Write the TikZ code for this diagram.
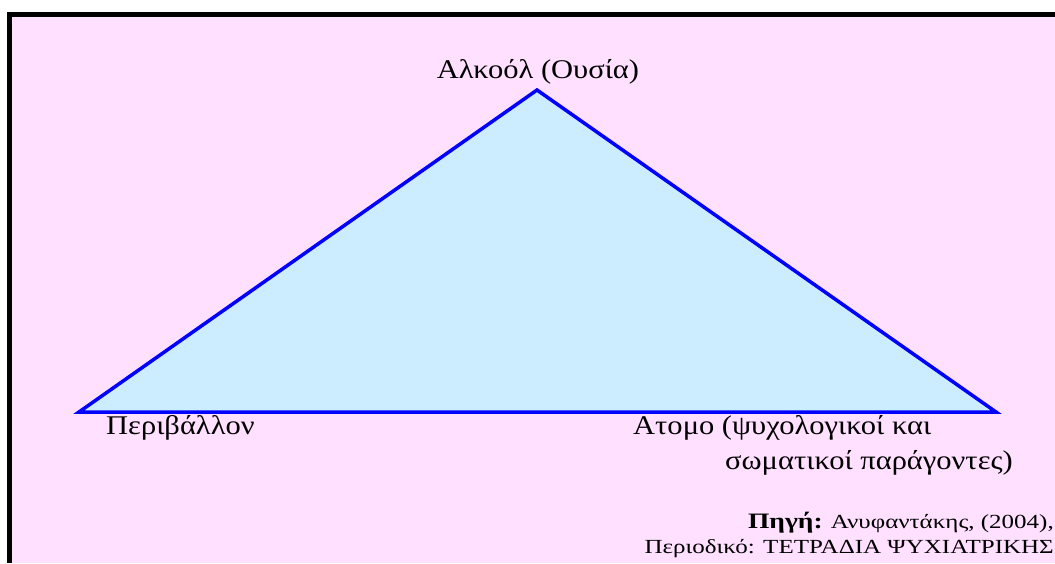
\documentclass[tikz,border=0pt]{standalone}
\usepackage{fontspec}
\setmainfont{Liberation Serif}
\newfontfamily\lblfont[FakeStretch=1.13]{Liberation Serif}
\newfontfamily\srcfont[FakeStretch=1.25]{Liberation Serif}
\definecolor{bgpink}{RGB}{255,224,255}
\definecolor{trifill}{RGB}{204,236,255}
\definecolor{triline}{RGB}{0,0,255}
\tikzset{
  lbl/.style={inner sep=0pt, font=\lblfont\fontsize{27}{32}\selectfont, text=black},
  src/.style={inner sep=0pt, font=\srcfont\fontsize{20}{24}\selectfont, text=black},
}
\begin{document}
\begin{tikzpicture}[x=1pt,y=-1pt]
\useasboundingbox (0,0) rectangle (1055,563);
\fill[white] (0,0) rectangle (1055,563);
\fill[black] (7,12) rectangle (1055,563);
\fill[bgpink] (12,17) rectangle (1055,563);
% labels
\node[lbl, anchor=base] (alc) at (538,78) {Αλκοόλ (Ουσία)};
\node[lbl, anchor=base west] (env) at (106,434) {Περιβάλλον};
\node[lbl, anchor=base west] (atom1) at (633,434) {Ατομο (ψυχολογικοί και};
\node[lbl, anchor=base east] (atom2) at (1013,469) {σωματικοί παράγοντες)};
\node[src, anchor=base east] (src1) at (1054,528) {\textbf{\fontsize{22}{24}\selectfont Πηγή:} Ανυφαντάκης, (2004),};
\node[src, anchor=base east] (src2) at (1054,553) {Περιοδικό: ΤΕΤΡΑΔΙΑ ΨΥΧΙΑΤΡΙΚΗΣ};
% triangle
\coordinate (apex) at (537,90);
\coordinate (lft) at (79,412);
\coordinate (rgt) at (996,412);
\draw[triline, line width=3.5pt, fill=trifill, line join=miter] (apex) -- (rgt) -- (lft) -- cycle;
\end{tikzpicture}
\end{document}
